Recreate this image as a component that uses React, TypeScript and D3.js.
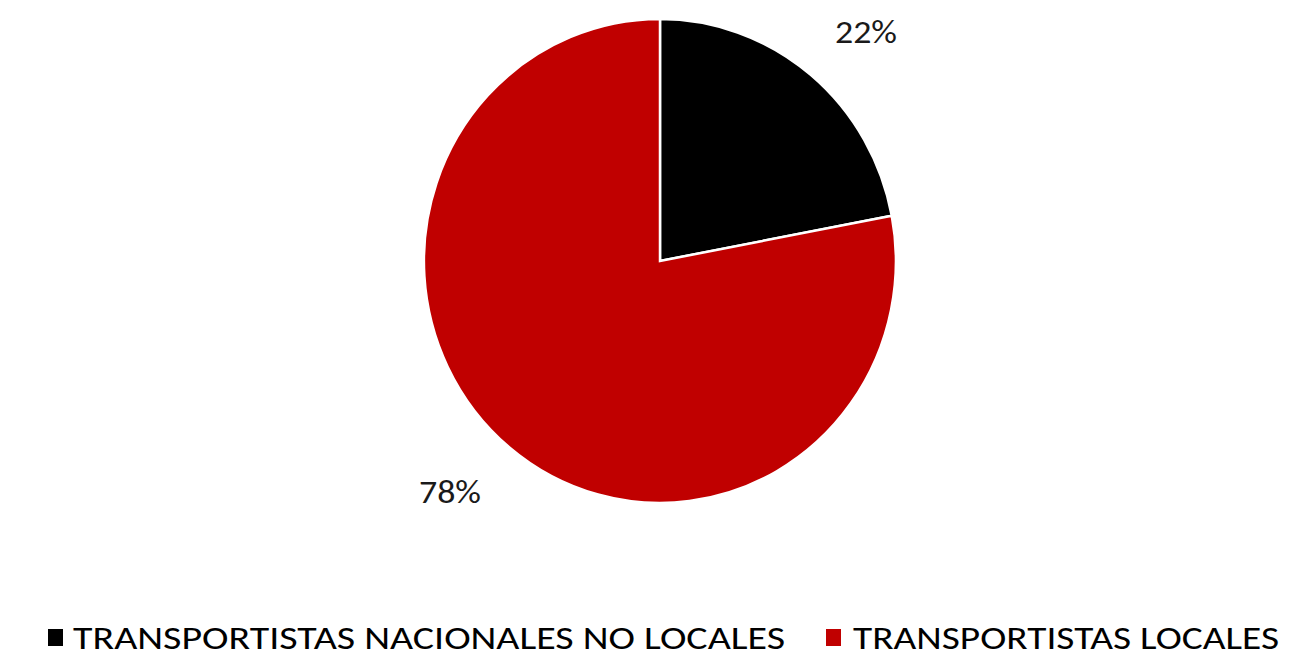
import React from "react";
import * as d3 from "d3";

const categories = ["TRANSPORTISTAS NACIONALES NO LOCALES", "TRANSPORTISTAS LOCALES"];
const values = [22, 78];
const colors = ["#000000", "#C00000"];
const labels = ["22%", "78%"];

const W = 1311;
const H = 661;

export default function App() {
  const cx = 660, cy = 261, rx = 236, ry = 242;
  const pie = d3.pie<number>().sort(null).value((d) => d)(values);
  const arc = d3.arc<d3.PieArcDatum<number>>().innerRadius(0).outerRadius(1);
  const labelPos = [
    { x: 866, y: 32 },
    { x: 450, y: 492 },
  ];
  const legendX = [48, 826];
  const legendTextX = [73, 853];
  const legendTextW = [712, 426];
  return (
    <svg width={W} height={H} style={{ position: "absolute", left: 0, top: 0, background: "#fff" }}>
      <g transform={`translate(${cx},${cy}) scale(${rx},${ry})`}>
        {pie.map((p, i) => (
          <path key={i} d={arc(p) || ""} fill={colors[i]} stroke="#fff" strokeWidth={2.5} vectorEffect="non-scaling-stroke" />
        ))}
      </g>
      {labels.map((t, i) => (
        <text key={i} x={labelPos[i].x} y={labelPos[i].y} textAnchor="middle" dominantBaseline="central"
          textLength={62} lengthAdjust="spacingAndGlyphs"
          fontFamily="Carlito, 'Liberation Sans', Arial, sans-serif" fontSize={32} fill="#1a1a1a">{t}</text>
      ))}
      {categories.map((c, i) => (
        <g key={i}>
          <rect x={legendX[i]} y={629} width={15} height={17} fill={colors[i]} />
          <text x={legendTextX[i]} y={638} dominantBaseline="central" textLength={legendTextW[i]} lengthAdjust="spacingAndGlyphs"
            fontFamily="Carlito, 'Liberation Sans', Arial, sans-serif" fontSize={33} fill="#000">{c}</text>
        </g>
      ))}
    </svg>
  );
}
